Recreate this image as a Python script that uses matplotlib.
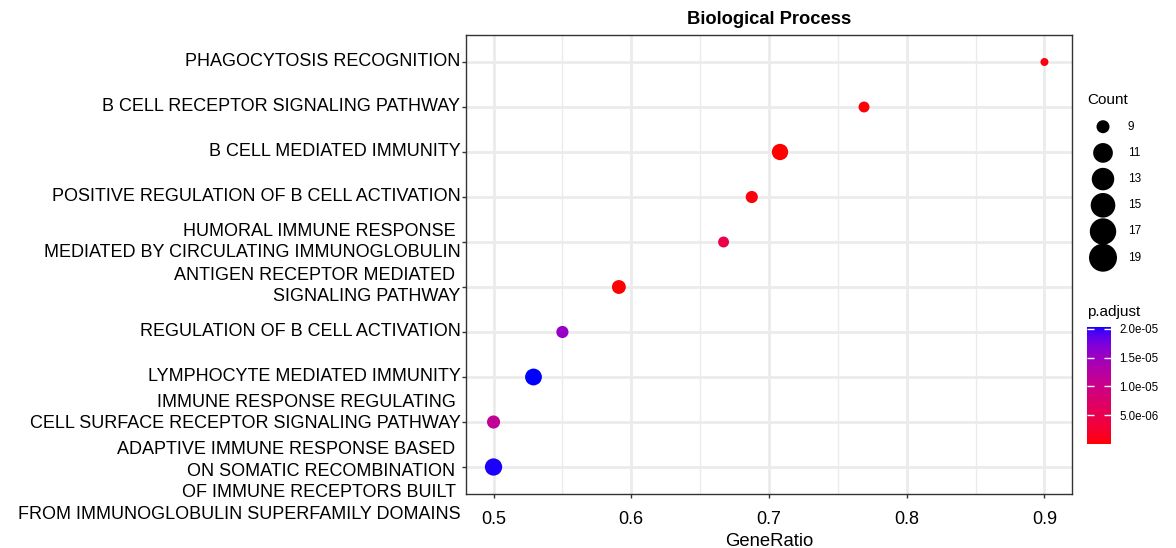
import numpy as np
import matplotlib
matplotlib.use("Agg")
import matplotlib.pyplot as plt
from matplotlib.colors import ListedColormap, Normalize

plt.rcParams['font.family'] = ['Liberation Sans', 'DejaVu Sans']

# terms listed top to bottom
terms = [
    "PHAGOCYTOSIS RECOGNITION",
    "B CELL RECEPTOR SIGNALING PATHWAY",
    "B CELL MEDIATED IMMUNITY",
    "POSITIVE REGULATION OF B CELL ACTIVATION",
    "HUMORAL IMMUNE RESPONSE \nMEDIATED BY CIRCULATING IMMUNOGLOBULIN",
    "ANTIGEN RECEPTOR MEDIATED \nSIGNALING PATHWAY",
    "REGULATION OF B CELL ACTIVATION",
    "LYMPHOCYTE MEDIATED IMMUNITY",
    "IMMUNE RESPONSE REGULATING \nCELL SURFACE RECEPTOR SIGNALING PATHWAY",
    "ADAPTIVE IMMUNE RESPONSE BASED \nON SOMATIC RECOMBINATION \nOF IMMUNE RECEPTORS BUILT \nFROM IMMUNOGLOBULIN SUPERFAMILY DOMAINS",
]
gene_ratio = [0.900, 0.769, 0.708, 0.6875, 0.667, 0.591, 0.550, 0.529, 0.500, 0.500]
counts = [9, 10, 17, 11, 10, 13, 11, 18, 12, 19]
p_adjust = [5.2e-7, 2.1e-7, 3.4e-9, 4.0e-7, 4.6e-6, 8.5e-8, 1.55e-5, 2.03e-5, 1.12e-5, 2.01e-5]

count_breaks = [9, 11, 13, 15, 17, 19]
p_ticks = [5e-6, 1e-5, 1.5e-5, 2e-5]
p_tick_labels = ["5.0e-06", "1.0e-05", "1.5e-05", "2.0e-05"]

# per-label vertical nudge in pixels (down is positive), mimics the original layout
label_dy = [0, 0, 0, 0, 0, -1, 0, 0, -9, 15]


# ggplot-like red -> blue gradient interpolated in Lab space
def srgb_to_lab(rgb):
    c = np.asarray(rgb, float)
    lin = np.where(c <= 0.04045, c / 12.92, ((c + 0.055) / 1.055) ** 2.4)
    m = np.array([[0.4124, 0.3576, 0.1805],
                  [0.2126, 0.7152, 0.0722],
                  [0.0193, 0.1192, 0.9505]])
    xyz = m @ lin / np.array([0.95047, 1.0, 1.08883])
    f = np.where(xyz > 0.008856, np.cbrt(xyz), 7.787 * xyz + 16 / 116)
    return np.array([116 * f[1] - 16, 500 * (f[0] - f[1]), 200 * (f[1] - f[2])])


def lab_to_srgb(lab):
    L, a, b = lab
    fy = (L + 16) / 116
    fx = fy + a / 500
    fz = fy - b / 200
    f = np.array([fx, fy, fz])
    xyz = np.where(f ** 3 > 0.008856, f ** 3, (f - 16 / 116) / 7.787)
    xyz = xyz * np.array([0.95047, 1.0, 1.08883])
    m = np.array([[3.2406, -1.5372, -0.4986],
                  [-0.9689, 1.8758, 0.0415],
                  [0.0557, -0.2040, 1.0570]])
    lin = m @ xyz
    c = np.where(lin <= 0.0031308, 12.92 * lin, 1.055 * np.clip(lin, 0, None) ** (1 / 2.4) - 0.055)
    return np.clip(c, 0, 1)


lab_lo = srgb_to_lab([1, 0, 0])
lab_hi = srgb_to_lab([0, 0, 1])
cmap = ListedColormap([lab_to_srgb(lab_lo + t * (lab_hi - lab_lo)) for t in np.linspace(0, 1, 256)])
norm = Normalize(vmin=min(p_adjust), vmax=max(p_adjust))


def diam(c, dmin, dmax, cmin=9, cmax=19):
    return dmin + (dmax - dmin) * np.sqrt((np.asarray(c, float) - cmin) / (cmax - cmin))


px = 72 / 100  # points per pixel at dpi 100

fig = plt.figure(figsize=(11.76, 5.48), dpi=100)
ax = fig.add_axes([466 / 1176, 1 - 494 / 548, (1072 - 466) / 1176, (494 - 35) / 548])

n = len(terms)
ypos = np.arange(n, 0, -1)
sizes = (diam(counts, 8, 17.3) * px) ** 2
sc = ax.scatter(gene_ratio, ypos, s=sizes, c=p_adjust, cmap=cmap, norm=norm,
                linewidths=0, zorder=3)

ax.set_xlim(0.48, 0.92)
ax.set_ylim(0.4, n + 0.6)
ax.set_xticks([0.5, 0.6, 0.7, 0.8, 0.9])
ax.set_xticks([0.55, 0.65, 0.75, 0.85], minor=True)
ax.set_yticks(ypos)
ax.tick_params(axis='y', labelleft=False)
# y labels drawn as text so each can be nudged like the original
for yy, term, dy in zip(ypos, terms, label_dy):
    ax.annotate(term, xy=(0, yy), xycoords=ax.get_yaxis_transform(),
                xytext=(-4, -dy * px), textcoords='offset points',
                ha='right', va='center', fontsize=13, multialignment='right',
                linespacing=1.36, annotation_clip=False)
ax.tick_params(axis='both', which='major', length=3, width=1, color='#333333', pad=2)
ax.tick_params(axis='x', labelsize=13, pad=9)
ax.tick_params(axis='both', which='minor', length=0)
ax.grid(True, which='major', color='#EBEBEB', linewidth=2)
ax.grid(True, which='minor', axis='x', color='#EBEBEB', linewidth=1)
ax.set_axisbelow(True)
for sp in ax.spines.values():
    sp.set_color('#333333')
    sp.set_linewidth(1)
ax.set_xlabel("GeneRatio", fontsize=13.3, labelpad=4)
ax.set_title("Biological Process", fontsize=13.2, fontweight='bold', pad=8)

# size legend
lax = fig.add_axes([1080 / 1176, 1 - 275 / 548, 60 / 1176, (275 - 112) / 548])
lax.set_xlim(0, 60)
lax.set_ylim(275, 112)
lax.axis('off')
leg_y = np.linspace(126.7, 257.7, len(count_breaks))
lax.scatter([23] * len(count_breaks), leg_y, s=(diam(count_breaks, 13, 28) * px) ** 2,
            color='black', linewidths=0)
for yy, cb in zip(leg_y, count_breaks):
    lax.text(48, yy, str(cb), va='center', ha='left', fontsize=8.5)
fig.text(1087 / 1176, 1 - 100 / 548, "Count", fontsize=11, va='center', ha='left')

# colour bar
cax = fig.add_axes([1087 / 1176, 1 - 444 / 548, 24 / 1176, (444 - 327) / 548])
cb = fig.colorbar(sc, cax=cax)
cb.outline.set_visible(False)
cb.set_ticks(p_ticks)
cb.set_ticklabels(p_tick_labels)
cax.tick_params(direction='in', length=5, width=1, color='white', labelsize=8.3,
                left=True, right=True, pad=6)
fig.text(1087 / 1176, 1 - 312 / 548, "p.adjust", fontsize=11, va='center', ha='left')

fig.savefig("out.png", dpi=100)
